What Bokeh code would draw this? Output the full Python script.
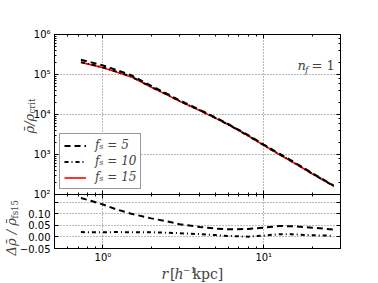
from bokeh.plotting import figure
from bokeh.models import (LogAxis, LinearAxis, FixedTicker, CustomJSTickFormatter,
                          Legend, LegendItem, Label, Range1d)
from bokeh.layouts import column
from bokeh.embed import file_html
from bokeh.resources import INLINE

# ---------------- data ----------------
r = [0.73, 0.85, 1.0, 1.2, 1.5, 2.0, 2.5, 3.0, 4.0, 5.0, 6.0, 8.0, 10.0, 12.5, 15.0, 20.0, 27.2]
rho_fs5 = [233000, 200700, 168600, 131600, 95800, 51700, 33000, 22600, 13140, 8420, 5810,
           3050, 1768, 1047, 691, 344, 167]
rho_fs10 = [203700, 177300, 150900, 120000, 88800, 48860, 31460, 21740, 12750, 8200, 5640,
            2953, 1710, 1012, 668, 333, 163]
rho_fs15 = [199500, 173800, 147900, 117500, 87100, 47900, 30900, 21400, 12600, 8130, 5620,
            2950, 1700, 1000, 661, 331, 162]
delta_fs5 = [0.168, 0.155, 0.140, 0.120, 0.100, 0.080, 0.067, 0.055, 0.043, 0.036, 0.033,
             0.034, 0.040, 0.047, 0.046, 0.040, 0.032]
delta_fs10 = [0.021, 0.020, 0.020, 0.021, 0.020, 0.020, 0.018, 0.016, 0.012, 0.008, 0.004,
              0.001, 0.006, 0.012, 0.011, 0.007, 0.005]

series_labels = ["fₛ = 5", "fₛ = 10", "fₛ = 15"]
x_tick_values = [1, 10]
x_tick_labels = ["10⁰", "10¹"]
y_tick_values = [100, 1000, 10000, 100000, 1000000]
y_tick_labels = ["10²", "10³", "10⁴", "10⁵", "10⁶"]
d_tick_values = [-0.05, 0.0, 0.05, 0.10, 0.15]
d_tick_labels = ["−0.05", "0.00", "0.05", "0.10", ""]

# ---------------- layout constants ----------------
W = 378
H = 282
F_LEFT, F_RIGHT = 54, 340          # frame edges (page px)
F_TOP, F_SEP, F_BOT = 34, 194, 248
OVER = 7                           # overlap between the two panels' canvases
TICK_FONT = "DejaVu Sans"
SERIF = "DejaVu Serif"

x_range = Range1d(0.5, 30)
x_minor = [m * 10.0 ** k for k in (-1, 0, 1) for m in range(2, 10) if 0.5 <= m * 10.0 ** k <= 30]


def x_ticker():
    return FixedTicker(ticks=x_tick_values, minor_ticks=x_minor)


empty_fmt = CustomJSTickFormatter(code="return ''")


def style_axis(ax, show_labels=True, minor=True):
    ax.axis_line_color = "black"
    ax.major_tick_in = 4
    ax.major_tick_out = 0
    ax.minor_tick_in = 2 if minor else 0
    ax.minor_tick_out = 0
    ax.major_tick_line_color = "black"
    ax.minor_tick_line_color = "black" if minor else None
    if show_labels:
        ax.major_label_text_font = TICK_FONT
        ax.major_label_text_font_size = "10px"
        ax.major_label_text_color = "black"
        ax.major_label_standoff = 4
    else:
        ax.formatter = empty_fmt
        ax.major_label_text_font_size = "0px"
        ax.major_label_standoff = 0


def style_grid(g):
    g.grid_line_color = "black"
    g.grid_line_alpha = 0.55
    g.grid_line_dash = "1 2"
    g.grid_line_width = 1


# ---------------- top panel ----------------
h1 = F_SEP + OVER
p1 = figure(width=W, height=h1, x_axis_type="log", y_axis_type="log",
            x_range=x_range, y_range=Range1d(1e2, 1e6),
            output_backend="svg", toolbar_location=None,
            min_border_left=F_LEFT, min_border_right=W - F_RIGHT,
            min_border_top=F_TOP, min_border_bottom=OVER,
            background_fill_color="white", border_fill_color=None)
p1.outline_line_color = "black"
p1.outline_line_width = 1

p1.xaxis[0].ticker = x_ticker()
style_axis(p1.xaxis[0], show_labels=False)
style_axis(p1.yaxis[0], show_labels=True)
p1.yaxis[0].major_label_overrides = dict(zip(y_tick_values, y_tick_labels))

top_ax = LogAxis(ticker=x_ticker())
style_axis(top_ax, show_labels=False)
p1.add_layout(top_ax, "above")
right_ax = LogAxis()
style_axis(right_ax, show_labels=False)
p1.add_layout(right_ax, "right")

p1.xgrid[0].ticker = x_ticker()
style_grid(p1.xgrid[0])
style_grid(p1.ygrid[0])

r15 = p1.line(r, rho_fs15, line_color="#ff0000", line_width=1.6)
r5 = p1.line(r, rho_fs5, line_color="black", line_width=2, line_dash="6 4")
r10 = p1.line(r, rho_fs10, line_color="black", line_width=2, line_dash="4 3 1 3")

legend = Legend(items=[LegendItem(label=series_labels[0], renderers=[r5]),
                       LegendItem(label=series_labels[1], renderers=[r10]),
                       LegendItem(label=series_labels[2], renderers=[r15])],
                location="bottom_left")
legend.margin = 5
legend.padding = 4
legend.spacing = 2
legend.glyph_width = 22
legend.glyph_height = 11
legend.label_height = 11
legend.label_standoff = 9
legend.label_text_font = SERIF
legend.label_text_font_style = "italic"
legend.label_text_font_size = "12px"
legend.border_line_color = "#333333"
legend.border_line_width = 1
legend.background_fill_color = "white"
legend.background_fill_alpha = 1
p1.add_layout(legend)

# n_f = 1 annotation (frame coordinates)
p1.add_layout(Label(x=243, y=129, x_units="screen", y_units="screen", text="n",
                    text_font=SERIF, text_font_style="italic", text_font_size="13px",
                    text_baseline="middle", text_align="left"))
p1.add_layout(Label(x=250.5, y=125, x_units="screen", y_units="screen", text="f",
                    text_font=SERIF, text_font_style="italic", text_font_size="9px",
                    text_baseline="middle", text_align="left"))
p1.add_layout(Label(x=257, y=129, x_units="screen", y_units="screen", text="= 1",
                    text_font=SERIF, text_font_size="13px",
                    text_baseline="middle", text_align="left"))

# ---------------- bottom panel ----------------
h2 = H - F_SEP
p2 = figure(width=W, height=h2, x_axis_type="log",
            x_range=x_range, y_range=Range1d(-0.05, 0.183),
            output_backend="svg", toolbar_location=None,
            min_border_left=F_LEFT, min_border_right=W - F_RIGHT,
            min_border_top=0, min_border_bottom=h2 - (F_BOT - F_SEP),
            background_fill_color=None, border_fill_color=None)
p2.margin = (-OVER, 0, 0, 0)
p2.outline_line_color = "black"
p2.outline_line_width = 1

p2.xaxis[0].ticker = x_ticker()
style_axis(p2.xaxis[0], show_labels=True)
p2.xaxis[0].major_label_standoff = 3
p2.xaxis[0].major_label_overrides = dict(zip(x_tick_values, x_tick_labels))
style_axis(p2.yaxis[0], show_labels=True, minor=False)
p2.yaxis[0].ticker = FixedTicker(ticks=d_tick_values)
p2.yaxis[0].major_label_overrides = dict(zip(d_tick_values, d_tick_labels))

top_ax2 = LogAxis(ticker=x_ticker())
style_axis(top_ax2, show_labels=False)
p2.add_layout(top_ax2, "above")
right_ax2 = LinearAxis(ticker=FixedTicker(ticks=d_tick_values))
style_axis(right_ax2, show_labels=False, minor=False)
p2.add_layout(right_ax2, "right")

p2.xgrid[0].ticker = x_ticker()
p2.ygrid[0].ticker = FixedTicker(ticks=d_tick_values)
style_grid(p2.xgrid[0])
style_grid(p2.ygrid[0])

p2.line(r, delta_fs5, line_color="black", line_width=2, line_dash="6 4")
p2.line(r, delta_fs10, line_color="black", line_width=2, line_dash="4 3 1 3")

# ---------------- transparent overlay (separate root) for axis titles ----------------
ov = figure(width=W, height=H, x_range=Range1d(0, 1), y_range=Range1d(0, 1),
            x_axis_location=None, y_axis_location=None,
            output_backend="svg", toolbar_location=None,
            min_border_left=0, min_border_right=0, min_border_top=0, min_border_bottom=0,
            background_fill_color=None, border_fill_color=None)
ov.margin = (-H, 0, 0, 0)
ov.outline_line_color = None
ov.grid.visible = False


def lab(txt, px, py, size="13px", italic=False, angle=0.0):
    ov.add_layout(Label(x=px, y=H - py, x_units="screen", y_units="screen", text=txt,
                        text_font=SERIF, text_font_style="italic" if italic else "normal",
                        text_font_size=size, text_baseline="middle", text_align="left",
                        angle=angle))


ROT = 1.5707963
# top y title
lab("ρ̄/ρ", 29, 133, italic=True, angle=ROT)
lab("crit", 31.5, 113, size="8.5px", angle=ROT)
# bottom y title
lab("Δρ̄ / ρ̄", 11, 255, italic=True, angle=ROT)
lab("fs15", 14, 218, size="8.5px", angle=ROT)
# x title
lab("r", 161, 273, size="14px", italic=True)
lab("[", 169.5, 273, size="14px")
lab("h", 174, 273, size="14px", italic=True)
lab("⁻¹", 182.5, 272, size="14px")
lab("kpc]", 192, 273, size="14px")

layout = column(p1, p2, spacing=0)
open("out.html", "w").write(file_html([layout, ov], INLINE))
